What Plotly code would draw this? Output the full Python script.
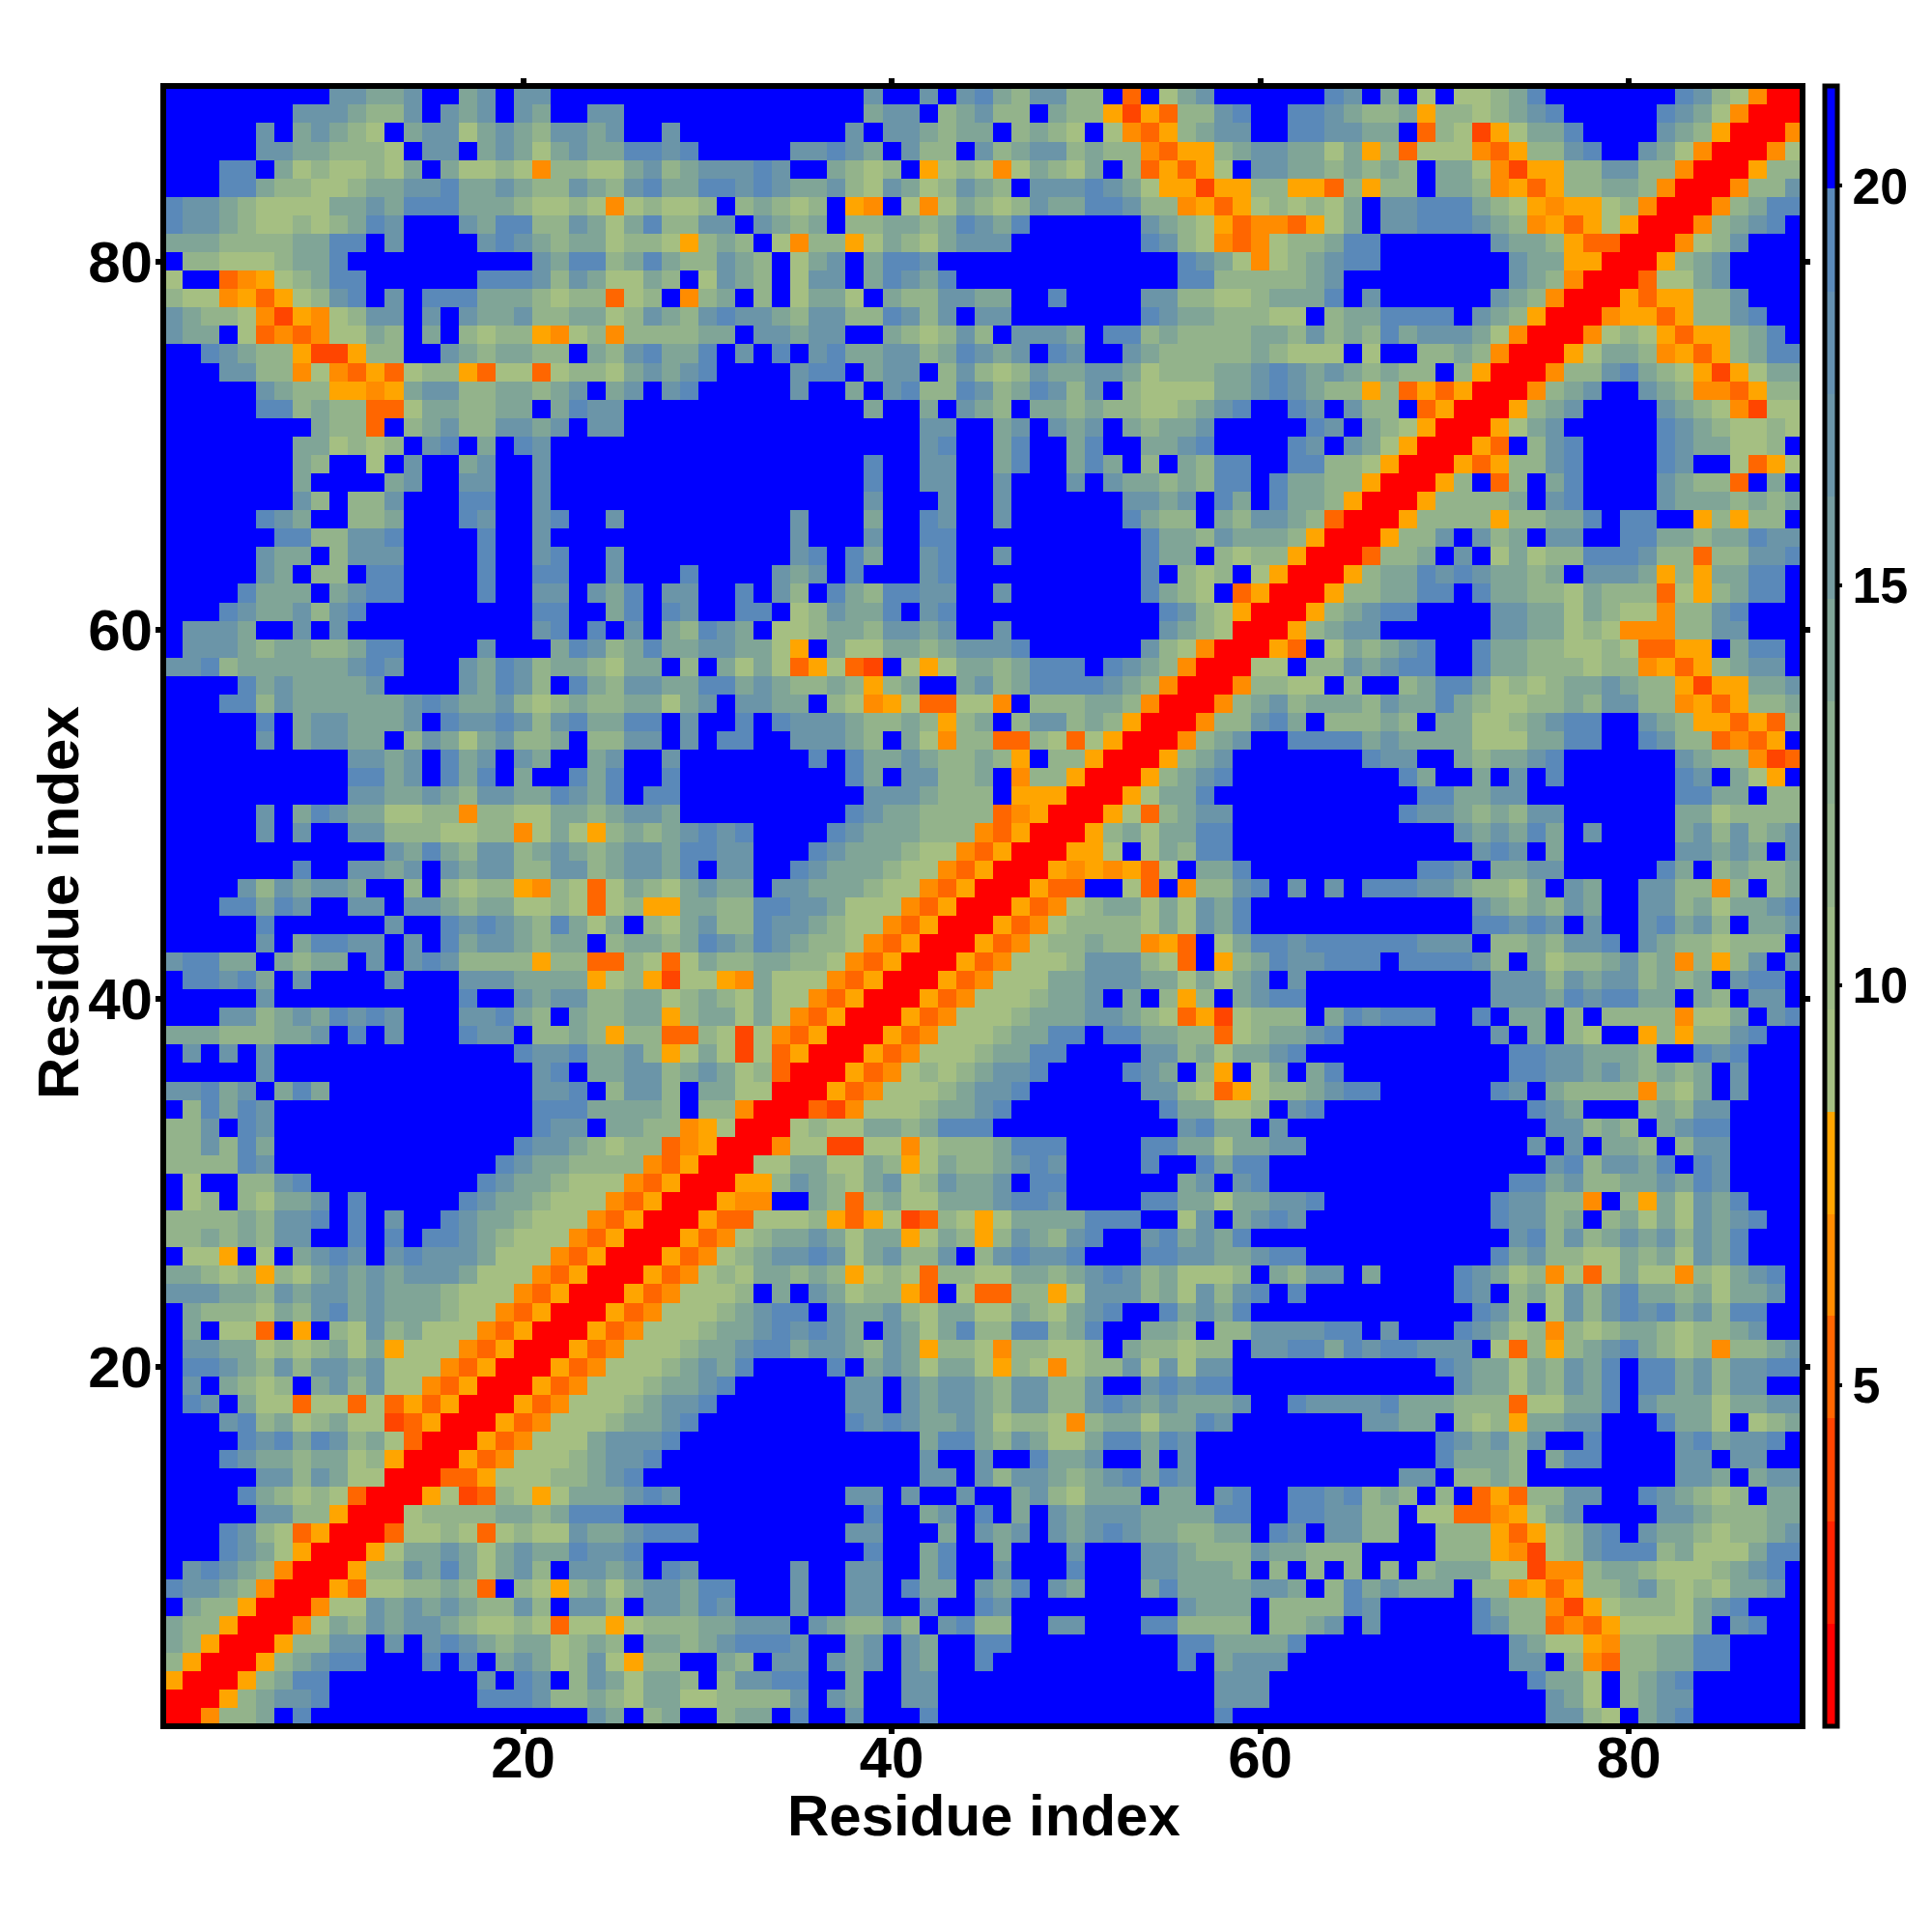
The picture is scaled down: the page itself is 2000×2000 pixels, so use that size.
import plotly.graph_objects as go

# Cell codes, by band of the colour bar
CODE_VALUES = {"r": 1.4, "n": 4.0, "d": 5.2, "o": 6.5, "a": 7.8,
               "1": 9.2, "3": 12.0, "5": 14.5, "7": 17.0, "9": 19.3, ".": 20.6}

# Residue y = 89 ... 60
top_left = [
".........77557..57.77.........",
".......7775337.757.75..77.....",
".....7.57531.577157537757..7..",
".....77553331.77.575157559979.",
"...99.51311315.51131o331157357",
"...995331135577955753375379559",
"977531111557599955531131o13113",
"9775311313597...75993375159337",
"55533335599.7....79753551331a3",
".331113559..........7599359533",
"1..doa13599......99973751153.1",
"311oada1379.7.9995553133d13.o3",
"75331onao1377.7.75573355137537",
"755.1dodo1153.5.3133ao13o33335",
"..97533anna33..7535533.5379559",
"...7733o1odad133ad11d133157579",
".....7533aaoa5773355357.57.79.",
".....993533dd1553355.5977.....",
"........533d.357337757.77.....",
".......551313.79.5.97.........",
".......53..1.7..57..7.........",
".......5....57..77..7.........",
".......73.337...99..7.........",
".....975..335...97..79..7.....",
"......9933779....9..7.........",
".....755.3777....9..79..7.....",
".....75.33.99....9..99..7...9.",
"....9555.5799....9..77.759.77.",
"...97557379.........99..59.97.",
".7775..7.7..........79.9.7.539",
]
top_mid = [
"........7..7.79537733.d.157...",
"........577.35733.533anad3379.",
".......7.775355.3531.1oda3577.",
"....77975.733.735773533odaa357",
"7797..5313.a131o15315.3dada1.7",
"9797557317513753.7779751aanaa3",
".35313.ao.1o1531375599733oada1",
"7.7535.3355359759......7531ado",
"53.1o33a15315777.......9731odo",
"753.157.5997.............9751o",
"753.177.59759............99333",
"5.3.1551.5337755..9....7733113",
"9775377339737.77.......9755333",
"5.77577..531373.7775.993533335",
".7.9.795577359757.97..75333335",
"....799.577.373137557751333557",
"....7..5.793397359737.31111557",
"........5..5.753.553533113579.",
"...........77..57.757.53557...",
"...........79..59..59..5579...",
"........9..77..59..595.3.5399.",
"........9..77..7...7.75535399.",
"........7...7..7......7757.95.",
"....7...5..97..7......9533.537",
"....7...7..99..........9553755",
"....79.95..79..7.......955.313",
"...757.9...79..........9.313.1",
".9.73.9539977..7.......9531.da",
".99.137559.79...........9731ar",
"75.1135537757..7........7531rr",
]
top_right = [
"...97.5.1.11359.......9731orr",
".9975335a3313579.....9751orrr",
".997755.d31na1559....753arrro",
"75515a3d111oda3379..751orrro1",
"75535353.551onaa337733orrra33",
"3aad3a33.553oada33553orrro337",
"31315.77999531aoaa13orrro3599",
"oda15.77999753oada1arrro3579.",
"133599......7553addrrro137...",
"135799.......755aarrra357....",
"3357.........753orrrd1157....",
"5559.7......753orrradaa337...",
"11.3559999.753arrroaada3379..",
"5373539577751orrro131adaa359.",
"3111.1..3353orrra1553oada3599",
"975753533.3arrro3379531ana155",
"97533a3dadarrro357..753ooda33",
".97.733.darrra357....7531on11",
"..97.531arrra157.....97531131",
".97.751arrrad.379....9755113.",
".99331arrrada3379....97..1da1",
"95533arrra3.d3.59....7533d.5.",
"9553arrra33335.79....75553535",
"753drrra3333a33559.99..a3a33.",
"53arrra337.735.77..9955355977",
"3arrrd335.7.15133999733d33779",
"arrra35597975535.7775a3a5599.",
"rrra335599.9553315333d1a3599.",
"rra35799....775515311o3379...",
"ra3577......7755131ooo3377...",
]

# Residue y = 59 ... 31
mid_left = [
".777535533599....7...597359557",
"7793555555797...75973553155.3.",
"....95755557....75973.95377559",
"...993755555579755731353355157",
".....9.5775557.977973795599.7.",
".....7.57755.375157335.3377.7.",
"..........7757.957.75..57..7..",
"..........9957.959.5..959..9..",
"..........775575377559759.99..",
".....7.597551133o33115535775..",
".....7.7..773331133o151a353579",
"............759537735753577599",
".......9..7757.75773377357759.",
"....7375775..3.3133ao31d153157",
"...99597..77.7753551131d13aa55",
".....9......7..9797539515.3157",
".....7.59977.7.95775355.355359",
"79955.5355.7.7973333a33dd31d15",
".99795.7....7...7775555a13an11",
".....7..........9..75773355135",
"...7735759797...77953.53355a35",
"555333557.9.7...977.3353a33dd3",
".7.7.7.............97795573a15",
".....7..............79.5577357",
"77957.595...........779.3773.5",
".39597..............99955553.3",
"337.97..............977.5533oa",
"337395.............97753133doa",
"333397............97553333odar",
]
mid_mid = [
"7551a.51155357779......731orrr",
"5151da1dn.1a15535999.9753orrr1",
"95753353a35..57359999753orrro3",
".7755.31oa1dd11o.333553orrro35",
".9.977753353a35.377353arrro337",
"99..77753.51o33dd31d1arrro357.",
".....9.955753353a.33arrra357..",
".......95.77335.o33arrra3579..",
"........7775333.aaarrra1559...",
".......97553333doarrra1d3577..",
"79....97555333odarrra3515599..",
"77...97555311odarrraa1.15399..",
"77..97555311odarrraoaoad1.559.",
"55.77555311odarrradd..1d.o3379",
"3399775111odarrrado1355151759.",
"339775311odarrrado13333151759.",
"75975331odarrrado133533oad.159",
"3355331odarrrado111377731d.a35",
"ao5111odarrrado111557775515157",
"31511odarrrado1113557.5.3a3.57",
"5151odarrrado111355577531dan13",
"1n1odarrrado11135599.995533d13",
"1n1darrrado11135599....7735155",
"513drrrado13135779....975.3a.1",
"511rrrado11135779......7731da1",
"3orrrdno11135579........955113",
"1rrr13115535999..........7955.",
"rrro11nn11o13335999....9955155",
"rr11551153a15335797....9..9599",
]
mid_right = [
"ad.153579..955331131ddaa.599.",
"1.3375799..955333133oada3577.",
"311.3..359951313557533anaa557",
"7355537559531133537733oada335",
"95.33353.551135799..753aadad3",
".99995755551115599..9733doda.",
".....977..535579......7533ond",
".......95..5.7.9......97.51a.",
"........995577........9955.33",
".......977535377......5513333",
"..........757595.7....5737357",
"...........797.5......77575.7",
"........997.5577.....95.35335",
".7.7.9997753315.75..7733o3.35",
"...........7535375..773515579",
"...........99797.7..79573.557",
"97999999777.3353779.75331333.",
"977999.999973.51335735o3a37.7",
".7..........777375773535.799.",
"99..........7775979955.53.77.",
"33.597999..9.55.3.3333o115.79",
"5579........7.5.31..a3a3379..",
"79...........99775553..979...",
"5.59.........99775753535.7...",
"335799......97.53333o315.7...",
".79...........975...35377....",
"7..............77353.5799....",
"77............7.7.553.377....",
"...............7937759.97....",
]

# Residue y = 30 ... 1
low_left = [
".1..3379.........97553111odarr",
".13.31557.9.....97553111odarrr",
"333353779.9.7..97553111odarrra",
"33535377..9.9.99753111odarrrad",
".11a.1.5797.797775111odarrrado",
"55313a31575757775111odarrrado1",
"7775537577575553111odarrrado11",
".53331537957555311odarrrado111",
".5.11d.a.31735111odarrrado1113",
".77551313515a111odarrrado11135",
".99753737757111odarrrado111357",
".7.5313.573711odarrrado1113557",
".97.511d11d1dadarrrado11135779",
"...793513511ndarrrado11135579.",
"....979597351drrrado11157779..",
"...975535513arrrado11135779...",
".....7737511rrrdda11133579....",
"....953131drrra1nd31a1555797..",
".....7733arrr133335535999.....",
"...9731darrrd1131d13117557999.",
"...9751arrra15575157559779....",
".79753orrra3375951573.7757.97.",
"97753orrrad113353d.31a35157759",
".533arrro117575753373.773.7759",
"533arrro1537577531131d11a13335",
"53arrra3377.7.79753551353.5535",
"3arrra35799...9.9.5751371a33..",
"arrra3599........7.97.3751553.",
"rrra35779........9997335315511",
"rro335.9...............75.35..",
]
low_mid = [
"raa3753157137557.99......57.79",
"aoo..53d35115557997....9955155",
"dd1113ada1nd31a15555999..17.57",
"o135575155a153a375379..795759.",
"1357797157337.379779...9977557",
"3155353a131d33115535797351113.",
"13.5.75133ad.1dd33a17773517379",
"35799.7557315511531579..95759.",
"55797975.751593399359..553.337",
"57995775375a331o33113.533133.7",
"59....9.5751551a31o133717177..",
"9......77.75775377337..79799..",
".......77.7577537733797575557.",
".......979755751331o35515597..",
"...........599537511599597....",
"...........7..7..9557..5.7....",
"...........77.737753579597....",
".......77.7..7..5731555.55.79.",
"........9..57.9.5.75777555599.",
".......77...5.757.75797553355.",
"........9..59..5...7...7753337",
"....7..77..59..7...9...775553.",
"9...7..77.955.759.75...5955557",
"7...7..77..7..97.........7555.",
"5777.753373.7933..77...993333.",
"79997..57.75..99.........99555",
"53.77.757.75..9..........9.577",
"37799..5..77...............777",
"33337.75..77...............777",
"355.9..7...9...............9..",
]
low_right = [
".............995733557597....",
"779.........97733o.3a51759...",
"97..........97735.351517579..",
".............7937357573759...",
"99..........95733115351759...",
"5377.5....97513o1d1511o31579.",
".9........97.351737955351557.",
"...........973.173797957399..",
"77799.7...97513o31355313357..",
"79959799777.1d3a35795313o3357",
".........9755153759.995737799",
"..........755153759.9957377..",
".977779555333d11559.755515577",
".....7755.313a5577...9551.135",
".........975737..9....795779.",
".........95553.599....77.77..",
".......77.3353........775.577",
".9979353.3.dad3377..975313.55",
".997733.11ddoa157....77533355",
"97.7733..333ada1379.755313357",
"55333....333aon13799935111599",
"3.3.3.3.355511noo35531113579.",
"75.3957555.33oada33573131557.",
"333397.....9533ona13331579...",
"3357.7.....9733doda11115.79..",
"59...........7511ao335599....",
"7............77.3od335599....",
"..............9551.3579......",
"...............751.3577......",
"...............7731.579......",
]

tick_vals = [20, 40, 60, 80]
bar_ticks = [5, 10, 15, 20]
axis_title = "Residue index"
band_edges = [0.73, 2.01, 3.29, 4.58, 5.86, 7.14, 8.42, 9.70, 10.98, 12.27,
              13.55, 14.83, 16.11, 17.40, 18.68, 19.97, 21.25]
band_colors = ["#FF0000", "#FF2300", "#FF4500", "#FF6600", "#FF8C00", "#FFA500",
               "#A5BF82", "#9DBA86", "#93B38B", "#8BAE90", "#80A597", "#769CA0",
               "#6B95A8", "#6490B0", "#5A89B9", "#0000FF"]

rows = []
for ls, ms, rs in [(top_left, top_mid, top_right),
                   (mid_left, mid_mid, mid_right),
                   (low_left, low_mid, low_right)]:
    for a, b, c in zip(ls, ms, rs):
        rows.append(a + b + c)

z = [[CODE_VALUES[ch] for ch in row] for row in reversed(rows)]
idx = list(range(1, 90))

span = band_edges[-1] - band_edges[0]
scale = []
for k, col in enumerate(band_colors):
    scale.append([(band_edges[k] - band_edges[0]) / span, col])
    scale.append([(band_edges[k + 1] - band_edges[0]) / span, col])

FONT = "Liberation Sans"
OFF = 8  # the page body adds an 8 px margin on the left and top
fig = go.Figure(go.Heatmap(
    x=idx, y=idx, z=z, zmin=band_edges[0], zmax=band_edges[-1],
    colorscale=scale,
    colorbar=dict(
        x=(1889 - OFF) / 2000, xanchor="left", xpad=0, thickness=13,
        y=(2000 - 89 + OFF) / 2000, yanchor="top", ypad=0,
        lenmode="fraction", len=1698 / 2000,
        outlinecolor="black", outlinewidth=5,
        tickmode="array", tickvals=bar_ticks, ticktext=[str(v) for v in bar_ticks],
        ticks="outside", ticklen=3, tickwidth=4, tickcolor="black",
        tickfont=dict(family=FONT, size=52, color="black", weight="bold"),
    ),
))
axis_common = dict(
    tickmode="array", tickvals=tick_vals, ticktext=[str(v) for v in tick_vals],
    ticks="outside", ticklen=5, tickwidth=6, tickcolor="black",
    showline=True, linecolor="black", linewidth=6, mirror="ticks",
    showgrid=False, zeroline=False, automargin=False,
    tickfont=dict(family=FONT, size=60, color="black", weight="bold"),
)
fig.update_layout(
    width=2000, height=2000, autosize=False,
    margin=dict(l=0, r=0, t=0, b=0),
    paper_bgcolor="white", plot_bgcolor="white",
    xaxis=dict(axis_common, domain=[(172 - OFF) / 2000, (1863 - OFF) / 2000],
               range=[0.632, 89.268], ticklabelstandoff=-27),
    yaxis=dict(axis_common, domain=[(216 + OFF) / 2000, (1908 + OFF) / 2000],
               range=[0.68, 89.36], ticklabelstandoff=-9),
    annotations=[
        dict(text="<b>%s</b>" % axis_title, xref="paper", yref="paper", showarrow=False,
             x=(1018 - OFF) / 2000, y=(2000 - 1879 + OFF) / 2000,
             xanchor="center", yanchor="middle",
             font=dict(family=FONT, size=60, color="black")),
        dict(text="<b>%s</b>" % axis_title, xref="paper", yref="paper", showarrow=False,
             x=(60 - OFF) / 2000, y=(2000 - 935 + OFF) / 2000, textangle=-90,
             xanchor="center", yanchor="middle",
             font=dict(family=FONT, size=60, color="black")),
    ],
)
fig.write_html("out.html")
